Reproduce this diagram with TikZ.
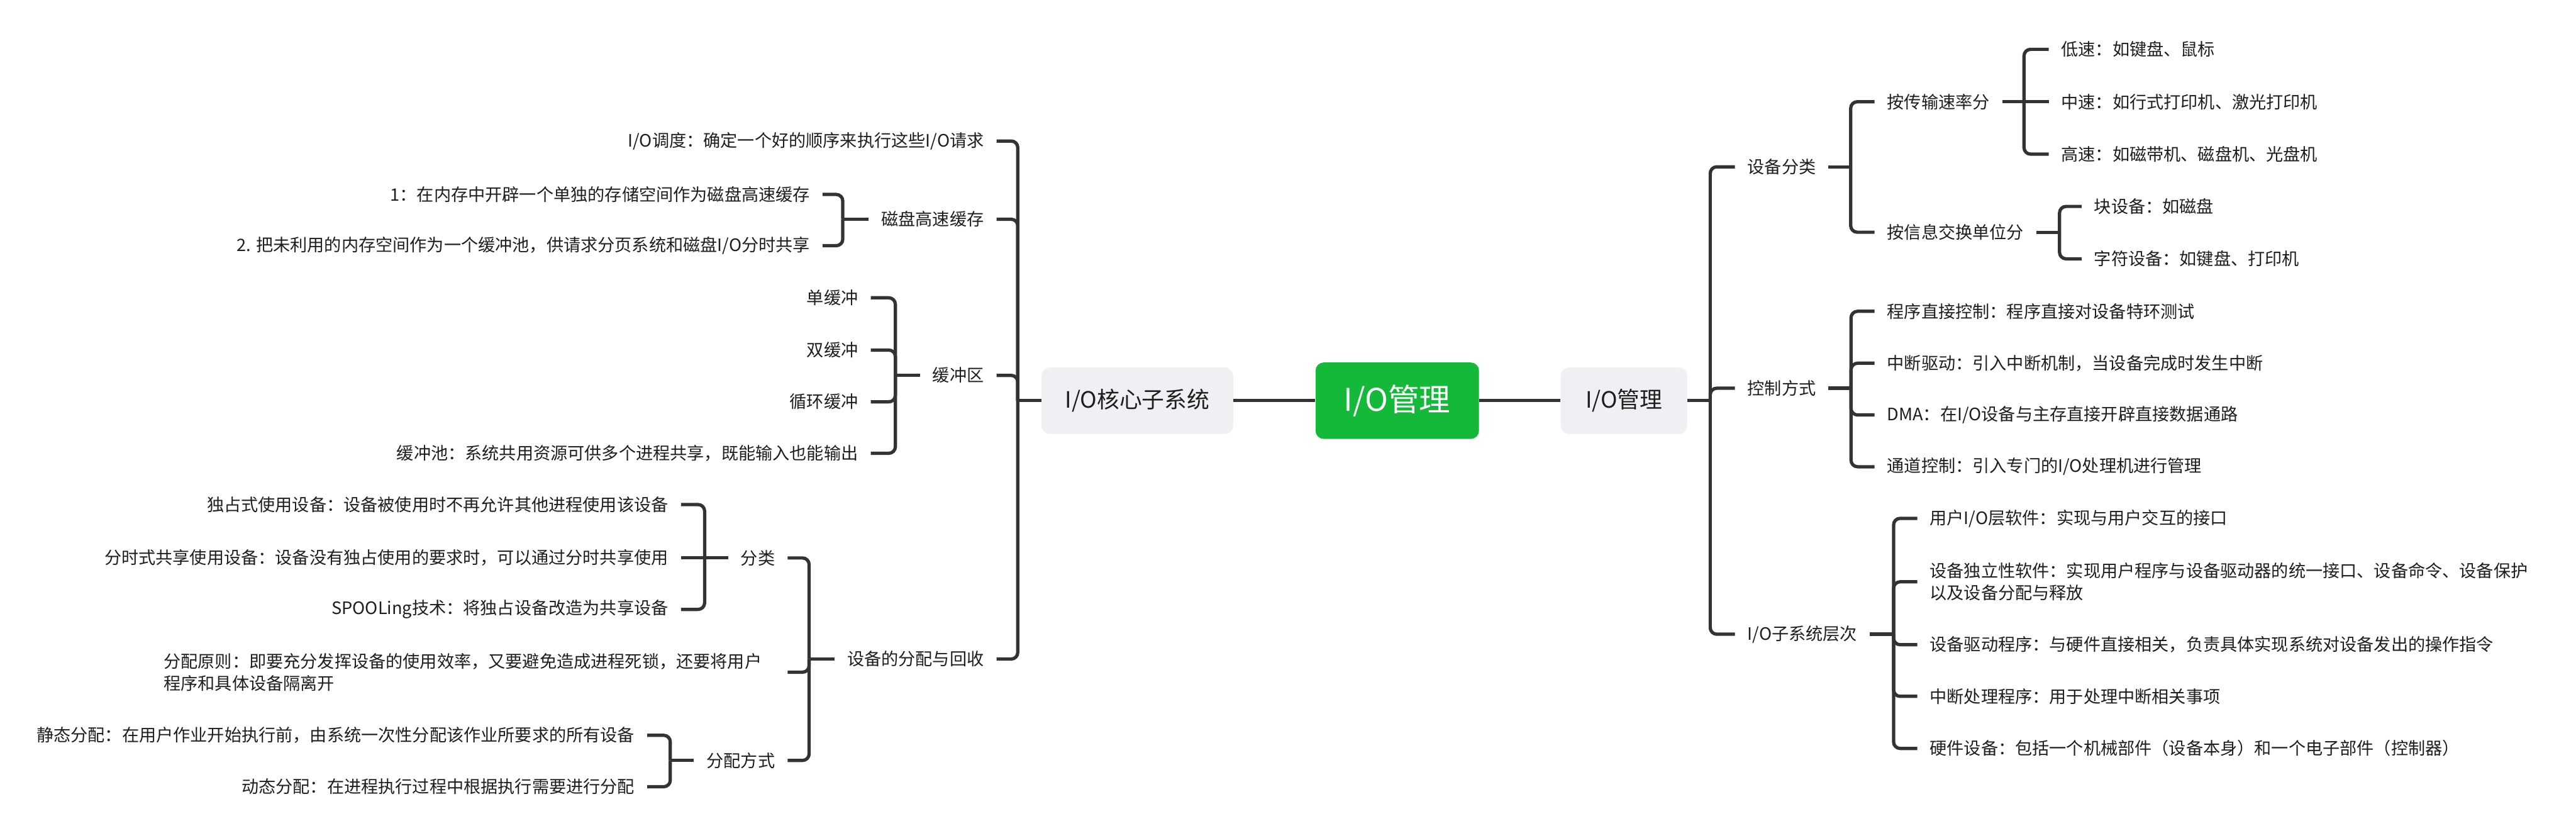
\documentclass[tikz,border=0pt]{standalone}
\usepackage{fontspec}
\setmainfont{Noto Sans CJK SC}
\definecolor{linec}{RGB}{51,51,51}
\definecolor{textc}{RGB}{30,30,30}
\definecolor{boxgray}{RGB}{238,240,243}
\definecolor{rootgreen}{RGB}{20,185,58}
\begin{document}
\begin{tikzpicture}[x=1pt,y=-1pt,
  conn/.style={line width=2pt, draw=linec},
  rconn/.style={conn, rounded corners=4pt},
  leaf/.style={font=\fontsize{10.4}{13.3}\selectfont, text=textc, inner xsep=7.5pt, inner ysep=2pt},
  lleaf/.style={leaf, anchor=east},
  rleaf/.style={leaf, anchor=west},
  mainbox/.style={fill=boxgray, rounded corners=5pt, font=\fontsize{13.7}{16}\selectfont, text=textc, minimum height=40.4pt, inner sep=0pt},
  rootbox/.style={fill=rootgreen, rounded corners=5pt, text=white, font=\fontsize{19}{22}\selectfont, minimum width=99.5pt, minimum height=46.5pt, inner sep=0pt}]
\useasboundingbox (0,0) rectangle (1568,509.67);

% central nodes
\node[rootbox] (root) at (850.5,243.8) {I/O管理};
\node[mainbox, minimum width=77pt] (r1) at (988.5,243.8) {I/O管理};
\node[mainbox, minimum width=116.6pt] (l1) at (692.3,243.8) {I/O核心子系统};
\draw[conn] (root.east) -- (r1.west);
\draw[conn] (root.west) -- (l1.east);

% ================= right side =================
\coordinate (r1s) at (1041,243.8);
\draw[conn] (r1.east) -- (r1s);
\node[rleaf] (sbfl) at (1056,101.5) {设备分类};
\node[rleaf] (kzfs) at (1056,236.2) {控制方式};
\node[rleaf] (zxtcc) at (1056,385.9) {I/O子系统层次};
\draw[rconn] (r1s) |- (sbfl.west);
\draw[rconn] (r1s) |- (kzfs.west);
\draw[rconn] (r1s) |- (zxtcc.west);

% 设备分类
\coordinate (sbfls) at (1126.5,101.5);
\draw[conn] (sbfl.east) -- (sbfls);
\node[rleaf] (csl) at (1141,61.9) {按传输速率分};
\node[rleaf] (xxjh) at (1141,141.3) {按信息交换单位分};
\draw[rconn] (sbfls) |- (csl.west);
\draw[rconn] (sbfls) |- (xxjh.west);

\coordinate (csls) at (1232,61.9);
\draw[conn] (csl.east) -- (csls);
\node[rleaf] (ds) at (1247,30) {低速：如键盘、鼠标};
\node[rleaf] (zs) at (1247,61.9) {中速：如行式打印机、激光打印机};
\node[rleaf] (gs) at (1247,93.8) {高速：如磁带机、磁盘机、光盘机};
\draw[rconn] (csls) |- (ds.west);
\draw[conn] (csls) -- (zs.west);
\draw[rconn] (csls) |- (gs.west);

\coordinate (xxjhs) at (1253.6,141.3);
\draw[conn] (xxjh.east) -- (xxjhs);
\node[rleaf] (ksb) at (1267,125.6) {块设备：如磁盘};
\node[rleaf] (zfsb) at (1267,157.5) {字符设备：如键盘、打印机};
\draw[rconn] (xxjhs) |- (ksb.west);
\draw[rconn] (xxjhs) |- (zfsb.west);

% 控制方式
\coordinate (kzfss) at (1126.7,236.2);
\draw[conn] (kzfs.east) -- (kzfss);
\node[rleaf] (cxzj) at (1141,189.4) {程序直接控制：程序直接对设备特环测试};
\node[rleaf] (zdqd) at (1141,221) {中断驱动：引入中断机制，当设备完成时发生中断};
\node[rleaf] (dma) at (1141,252.5) {DMA：在I/O设备与主存直接开辟直接数据通路};
\node[rleaf] (tdkz) at (1141,284) {通道控制：引入专门的I/O处理机进行管理};
\draw[rconn] (kzfss) |- (cxzj.west);
\draw[rconn] (kzfss) |- (zdqd.west);
\draw[rconn] (kzfss) |- (dma.west);
\draw[rconn] (kzfss) |- (tdkz.west);

% I/O子系统层次
\coordinate (zxtccs) at (1152.6,385.9);
\draw[conn] (zxtcc.east) -- (zxtccs);
\node[rleaf] (yhc) at (1167,315.4) {用户I/O层软件：实现与用户交互的接口};
\node[rleaf, text width=372pt, align=left] (dlx) at (1167,354) {设备独立性软件：实现用户程序与设备驱动器的统一接口、设备命令、设备保护\\以及设备分配与释放};
\node[rleaf] (sbqd) at (1167,392.3) {设备驱动程序：与硬件直接相关，负责具体实现系统对设备发出的操作指令};
\node[rleaf] (zdcl) at (1167,423.7) {中断处理程序：用于处理中断相关事项};
\node[rleaf] (yjsb) at (1167,455.4) {硬件设备：包括一个机械部件（设备本身）和一个电子部件（控制器）};
\draw[rconn] (zxtccs) |- (yhc.west);
\draw[rconn] (zxtccs) |- (dlx.west);
\draw[rconn] (zxtccs) |- (sbqd.west);
\draw[rconn] (zxtccs) |- (zdcl.west);
\draw[rconn] (zxtccs) |- (yjsb.west);

% ================= left side =================
\coordinate (l1s) at (619.5,243.8);
\draw[conn] (l1.west) -- (l1s);
\node[lleaf] (iodd) at (606.6,85.8) {I/O调度：确定一个好的顺序来执行这些I/O请求};
\node[lleaf] (cphc) at (606.6,133.4) {磁盘高速缓存};
\node[lleaf] (hcq) at (606.6,228.4) {缓冲区};
\node[lleaf] (fphs) at (606.6,401) {设备的分配与回收};
\draw[rconn] (l1s) |- (iodd.east);
\draw[rconn] (l1s) |- (cphc.east);
\draw[rconn] (l1s) |- (hcq.east);
\draw[rconn] (l1s) |- (fphs.east);

% 磁盘高速缓存
\coordinate (cphcs) at (513,133.4);
\draw[conn] (cphc.west) -- (cphcs);
\node[lleaf] (hc1) at (500.7,118.3) {1：在内存中开辟一个单独的存储空间作为磁盘高速缓存};
\node[lleaf] (hc2) at (500.7,149.5) {2. 把未利用的内存空间作为一个缓冲池，供请求分页系统和磁盘I/O分时共享};
\draw[rconn] (cphcs) |- (hc1.east);
\draw[rconn] (cphcs) |- (hc2.east);

% 缓冲区
\coordinate (hcqs) at (545,228.4);
\draw[conn] (hcq.west) -- (hcqs);
\node[lleaf] (dhc) at (530,181.2) {单缓冲};
\node[lleaf] (shc) at (530,213) {双缓冲};
\node[lleaf] (xhhc) at (530,244.5) {循环缓冲};
\node[lleaf] (hcc) at (530,275.8) {缓冲池：系统共用资源可供多个进程共享，既能输入也能输出};
\draw[rconn] (hcqs) |- (dhc.east);
\draw[rconn] (hcqs) |- (shc.east);
\draw[rconn] (hcqs) |- (xhhc.east);
\draw[rconn] (hcqs) |- (hcc.east);

% 设备的分配与回收
\coordinate (fphss) at (492.5,401);
\draw[conn] (fphs.west) -- (fphss);
\node[lleaf] (fl) at (479.4,339.5) {分类};
\node[lleaf, text width=372pt, align=left] (fpyz) at (479.4,409) {分配原则：即要充分发挥设备的使用效率，又要避免造成进程死锁，还要将用户\\程序和具体设备隔离开};
\node[lleaf] (fpfs) at (479.4,462.7) {分配方式};
\draw[rconn] (fphss) |- (fl.east);
\draw[rconn] (fphss) |- (fpyz.east);
\draw[rconn] (fphss) |- (fpfs.east);

\coordinate (fls) at (428.9,339.5);
\draw[conn] (fl.west) -- (fls);
\node[lleaf] (dzs) at (414.5,307) {独占式使用设备：设备被使用时不再允许其他进程使用该设备};
\node[lleaf] (fss) at (414.5,339.5) {分时式共享使用设备：设备没有独占使用的要求时，可以通过分时共享使用};
\node[lleaf] (spool) at (414.5,370.8) {SPOOLing技术：将独占设备改造为共享设备};
\draw[rconn] (fls) |- (dzs.east);
\draw[conn] (fls) -- (fss.east);
\draw[rconn] (fls) |- (spool.east);

\coordinate (fpfss) at (408,462.7);
\draw[conn] (fpfs.west) -- (fpfss);
\node[lleaf] (jtfp) at (394,447.4) {静态分配：在用户作业开始执行前，由系统一次性分配该作业所要求的所有设备};
\node[lleaf] (dtfp) at (394,478.7) {动态分配：在进程执行过程中根据执行需要进行分配};
\draw[rconn] (fpfss) |- (jtfp.east);
\draw[rconn] (fpfss) |- (dtfp.east);
\end{tikzpicture}
\end{document}
